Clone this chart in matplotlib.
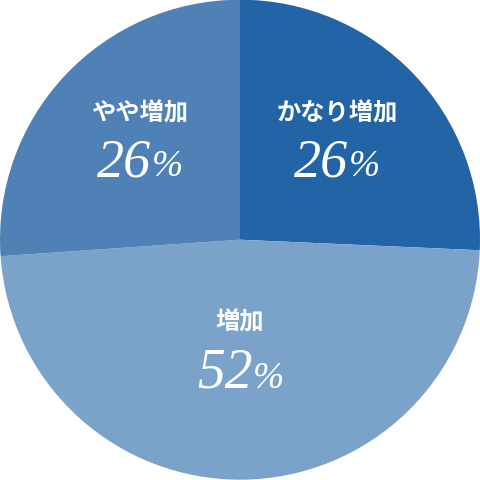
import matplotlib
matplotlib.use("Agg")
import matplotlib.pyplot as plt

# slices clockwise from 12 o'clock
categories = ["かなり増加", "増加", "やや増加"]
shares = [25.7, 48.2, 26.1]          # slice sizes
pct_labels = ["26", "52", "26"]      # printed numbers
colors = ["#2264a5", "#7ba2c9", "#4f81b6"]

fig = plt.figure(figsize=(4.80, 4.81), dpi=100)
ax = fig.add_axes([0, 0, 1, 1])

ax.pie(shares, colors=colors, startangle=90, counterclock=False,
       radius=1.0, center=(0, 0), frame=True,
       wedgeprops=dict(linewidth=0))
ax.set_xlim(-1, 1)
ax.set_ylim(-240.3 / 240, 240.7 / 240)
ax.set_aspect("auto")
ax.axis("off")

# label positions (x, name centre y, number baseline y)
label_pos = {"かなり増加": (0.405, 0.528, 0.268),
             "増加": (0.0, -0.339, -0.612),
             "やや増加": (-0.417, 0.528, 0.268)}

jp_font = dict(family=["Noto Sans CJK JP", "DejaVu Sans"], weight="bold")
num_font = dict(family="Liberation Serif", style="italic")

fig.canvas.draw()
renderer = fig.canvas.get_renderer()

for cat, num in zip(categories, pct_labels):
    x, yname, ybase = label_pos[cat]
    ax.text(x, yname, cat, ha="center", va="center", color="white",
            fontsize=17.5, **jp_font)
    big = 40 if num == "52" else 39
    t1 = ax.text(x, ybase, num, ha="left", va="baseline", color="white",
                 fontsize=big, **num_font)
    t2 = ax.text(x, ybase, "%", ha="left", va="baseline", color="white",
                 fontsize=27, **num_font)
    w1 = t1.get_window_extent(renderer).width / 240
    w2 = t2.get_window_extent(renderer).width / 240
    left = x - (w1 + w2) / 2
    t1.set_x(left)
    t2.set_x(left + w1 + 0.002)

fig.savefig("out.png", dpi=100)
